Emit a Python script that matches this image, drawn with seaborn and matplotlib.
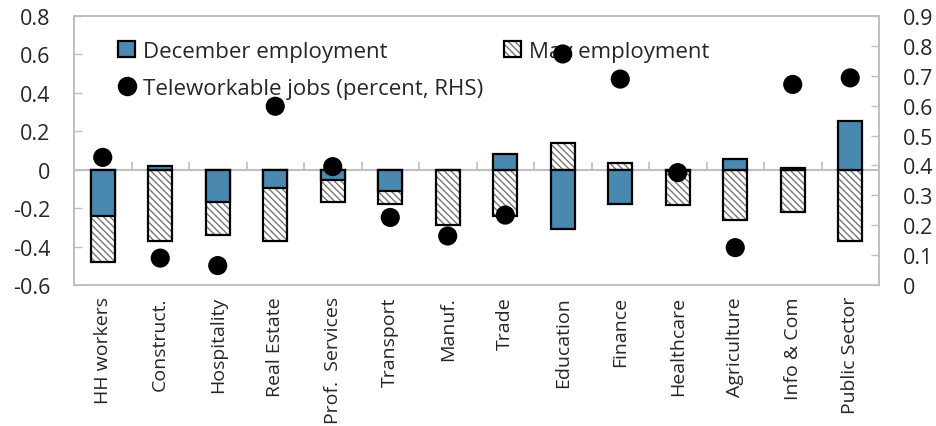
import numpy as np
import pandas as pd
import matplotlib
matplotlib.use("Agg")
import matplotlib.pyplot as plt
import seaborn as sns
from matplotlib.patches import Patch
from matplotlib.lines import Line2D
from matplotlib.legend_handler import HandlerTuple
from matplotlib.ticker import FuncFormatter, MultipleLocator

# Sectors and values
sectors = ["HH workers", "Construct.", "Hospitality", "Real Estate", "Prof.  Services",
           "Transport", "Manuf.", "Trade", "Education", "Finance", "Healthcare",
           "Agriculture", "Info & Com", "Public Sector"]
december = [-0.24, 0.017, -0.17, -0.095, -0.055, -0.11, -0.003, 0.08, -0.31, -0.18,
            -0.005, 0.055, 0.008, 0.254]
may = [-0.48, -0.37, -0.34, -0.37, -0.17, -0.18, -0.29, -0.24, 0.14, 0.036, -0.185,
       -0.264, -0.22, -0.37]
teleworkable = [0.427, 0.09, 0.065, 0.598, 0.396, 0.226, 0.164, 0.234, 0.773, 0.689,
                0.376, 0.125, 0.671, 0.693]

left_ticks = np.round(np.arange(-0.6, 0.81, 0.2), 1)
right_ticks = np.round(np.arange(0.0, 0.91, 0.1), 1)

BLUE = "#4A89AF"
HATCH_GREY = "#777777"
FRAME_GREY = "#BFBFBF"
HATCH = "\\\\\\\\\\"

sns.set_style("white")
plt.rcParams["font.family"] = ["Open Sans", "DejaVu Sans"]
plt.rcParams["axes.unicode_minus"] = False
plt.rcParams["hatch.linewidth"] = 1.0

df = pd.DataFrame({"sector": sectors, "december": december, "may": may,
                   "tele": teleworkable})
df["pos"] = np.arange(len(df))

fig = plt.figure(figsize=(9.36, 4.27), dpi=100)
ax = fig.add_axes([74 / 936, 1 - 286 / 427, 805 / 936, 269 / 427])

bar_w = 0.41
# May: hatched fill, then black outline
sns.barplot(data=df, x="sector", y="may", ax=ax, color="white", saturation=1,
            width=bar_w, errorbar=None, hatch=HATCH, edgecolor=HATCH_GREY,
            linewidth=0, zorder=2)
sns.barplot(data=df, x="sector", y="may", ax=ax, fill=False, width=bar_w,
            errorbar=None, edgecolor="black", linewidth=1.6, zorder=3)
# December on top
sns.barplot(data=df, x="sector", y="december", ax=ax, color=BLUE, saturation=1,
            width=bar_w, errorbar=None, edgecolor="black", linewidth=1.6, zorder=4)

n = len(sectors)
ax.set_xlim(-0.5, n - 0.5)
ax.set_ylim(left_ticks[0], left_ticks[-1])
ax.yaxis.set_major_locator(MultipleLocator(0.2))
ax.yaxis.set_major_formatter(FuncFormatter(lambda v, p: f"{round(v, 1):g}"))
ax.set_xlabel("")
ax.set_ylabel("")

# zero line with separators between sectors
ax.axhline(0, color=FRAME_GREY, lw=1.5, zorder=1)
ax.vlines(np.arange(n - 1) + 0.5, 0, 0.042, color=FRAME_GREY, lw=1.2, zorder=1)

ax.tick_params(axis="x", length=0, pad=8, labelsize=14, labelrotation=90)
ax.tick_params(axis="y", direction="in", length=6, color=FRAME_GREY, width=1,
               pad=17, labelsize=15.5)
for s in ax.spines.values():
    s.set_color(FRAME_GREY)
    s.set_linewidth(1.2)

# Teleworkable share on the right axis
ax2 = ax.twinx()
sns.scatterplot(data=df, x="pos", y="tele", ax=ax2, color="black", s=190,
                edgecolor="none", zorder=5)
ax2.set_ylim(right_ticks[0], right_ticks[-1])
ax2.yaxis.set_major_locator(MultipleLocator(0.1))
ax2.yaxis.set_major_formatter(FuncFormatter(lambda v, p: f"{round(v, 1):g}"))
ax2.set_ylabel("")
ax2.set_xlim(-0.5, n - 0.5)
ax2.tick_params(axis="y", direction="in", length=6, color=FRAME_GREY, width=1,
                pad=17, labelsize=15.5)
for s in ax2.spines.values():
    s.set_color(FRAME_GREY)
    s.set_linewidth(1.2)

# Legend
h_dec = Patch(facecolor=BLUE, edgecolor="black", linewidth=1.6)
h_may = (Patch(facecolor="white", edgecolor=HATCH_GREY, hatch=HATCH, linewidth=0),
         Patch(fill=False, edgecolor="black", linewidth=1.6))
h_tel = Line2D([], [], marker="o", linestyle="none", color="black", markersize=13)
ax.legend([h_dec, h_tel, h_may],
          ["December employment", "Teleworkable jobs (percent, RHS)", "May employment"],
          ncol=2, loc="upper left", bbox_to_anchor=(0.055, 0.908), frameon=False,
          fontsize=16, handlelength=0.75, handleheight=0.75, handletextpad=0.35,
          columnspacing=0.95, labelspacing=0.72, borderpad=0, borderaxespad=0,
          handler_map={tuple: HandlerTuple(ndivide=1, pad=0)})

fig.savefig("out.png", dpi=100)
